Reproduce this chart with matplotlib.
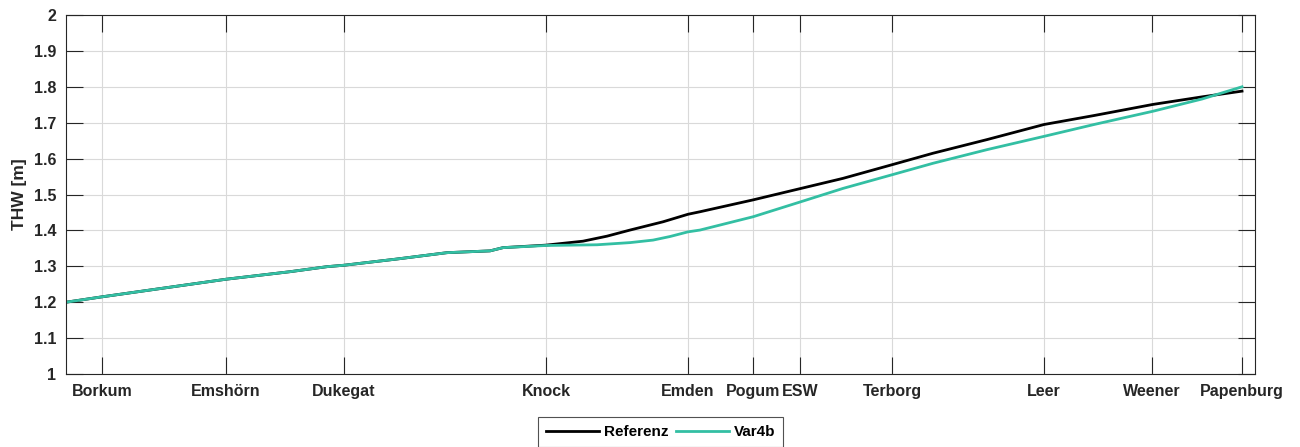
import matplotlib.pyplot as plt
from matplotlib.ticker import FuncFormatter

# stations along the Ems (axis position, km-like units)
stations = ['Borkum', 'Emshörn', 'Dukegat', 'Knock', 'Emden', 'Pogum', 'ESW',
            'Terborg', 'Leer', 'Weener', 'Papenburg']
station_km = [3.6, 16.0, 27.8, 48.0, 62.2, 68.7, 73.4, 82.6, 97.8, 108.6, 117.6]

# Referenz
ref_km = [0, 3.6, 16.0, 22.4, 26.1, 27.8, 33.0, 38.1, 42.4, 43.7, 48.0, 51.7,
          54.1, 56.4, 59.7, 62.2, 63.4, 68.7, 73.5, 77.7, 82.6, 86.7, 92.1, 97.8,
          102.8, 108.7, 113.6, 117.6]
ref_thw = [1.200, 1.215, 1.264, 1.285, 1.299, 1.303, 1.320, 1.338, 1.343, 1.352,
           1.359, 1.370, 1.384, 1.401, 1.424, 1.445, 1.452, 1.485, 1.517, 1.545,
           1.583, 1.615, 1.653, 1.695, 1.720, 1.751, 1.772, 1.788]

# Var4b
var_km = [0, 3.6, 16.0, 22.4, 26.1, 27.8, 33.0, 38.1, 42.4, 43.7, 48.0, 53.1,
          56.4, 58.7, 60.4, 62.2, 63.4, 68.7, 73.5, 77.7, 82.6, 86.7, 92.1, 97.8,
          102.8, 108.7, 113.6, 117.6]
var_thw = [1.200, 1.215, 1.264, 1.285, 1.299, 1.303, 1.320, 1.338, 1.343, 1.352,
           1.358, 1.360, 1.366, 1.373, 1.383, 1.396, 1.401, 1.438, 1.480, 1.517,
           1.555, 1.587, 1.625, 1.662, 1.695, 1.732, 1.766, 1.800]

plt.rcParams['font.family'] = ['Liberation Sans', 'DejaVu Sans']
txt = '#262626'

fig = plt.figure(figsize=(13, 4.47), dpi=100)
ax = fig.add_axes([0.0508, 0.1633, 0.9146, 0.8031])

ax.plot(ref_km, ref_thw, color='black', lw=2.0, label='Referenz')
ax.plot(var_km, var_thw, color='#33bfa3', lw=2.0, label='Var4b')

ax.set_xlim(0, 118.9)
ax.set_ylim(1, 2)
ax.set_xticks(station_km)
ax.set_xticklabels(stations)
ax.set_yticks([1 + 0.1 * i for i in range(11)])
ax.yaxis.set_major_formatter(FuncFormatter(lambda v, p: '%g' % round(v, 2)))

ax.grid(True, color='#d9d9d9', lw=0.8)
ax.tick_params(direction='in', length=12, width=0.8, colors=txt, labelsize=11.5,
               top=True, right=True, pad=7)
for lab in ax.get_xticklabels() + ax.get_yticklabels():
    lab.set_fontweight('bold')
for s in ax.spines.values():
    s.set_color(txt)
    s.set_linewidth(0.8)

ax.set_ylabel('THW [m]', fontsize=12.5, fontweight='bold', color=txt, labelpad=5)

leg = fig.legend(loc='upper center', bbox_to_anchor=(0.508, 0.066), ncol=2,
                 frameon=True, fancybox=False, edgecolor=txt, handlelength=3.5,
                 handletextpad=0.3, columnspacing=0.5, borderpad=0.5,
                 borderaxespad=0, prop={'weight': 'bold', 'size': 11})
leg.get_frame().set_linewidth(0.8)

fig.savefig('out.png', dpi=100)
